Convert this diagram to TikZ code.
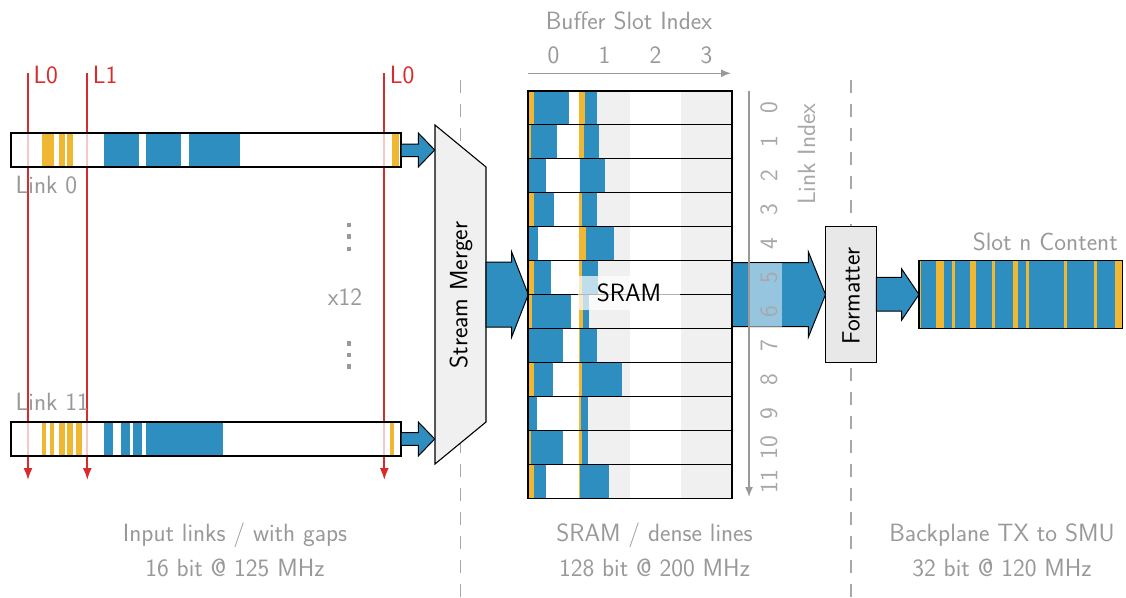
\documentclass[tikz,border=0pt]{standalone}
\usetikzlibrary{arrows.meta,calc}
\definecolor{blk}{HTML}{2E8EC0}
\definecolor{org}{HTML}{F0B732}
\definecolor{redl}{HTML}{D92B2B}
\definecolor{gtext}{HTML}{999999}
\definecolor{ltext}{HTML}{A8A8A8}
\definecolor{lgray}{HTML}{F0F0F0}
\definecolor{fgray}{HTML}{E8E8E8}
\tikzset{
  txt/.style={font=\sffamily\fontsize{25}{30}\selectfont, inner sep=0pt},
  gl/.style={txt, text=gtext},
  redline/.style={draw=redl, line width=1.7pt, -{Latex[length=12pt,width=9pt]}},
  redlab/.style={txt, text=redl, anchor=base west},
  gaxis/.style={draw=gtext, line width=1.4pt, -{Latex[length=10pt,width=8pt]}},
  sep/.style={draw=ltext, line width=1.4pt, dash pattern=on 13pt off 11pt},
  outl/.style={draw=black, line width=1.6pt},
  barrow/.style={fill=blk, draw=black, line width=1pt, line join=miter},
}
\begin{document}
\begin{tikzpicture}[x=1pt,y=-1pt]
\useasboundingbox (0,0) rectangle (1126,597);
% separators
\coordinate (s1t) at (460.5,80); \coordinate (s1b) at (460.5,597);
\coordinate (s2t) at (851,80); \coordinate (s2b) at (851,597);
\draw[sep] (s1t) -- (s1b);
\draw[sep] (s2t) -- (s2b);
% red time lines
\coordinate (r1t) at (28,73); \coordinate (r1b) at (28,480);
\coordinate (r2t) at (87.3,73); \coordinate (r2b) at (87.3,480);
\coordinate (r3t) at (384.3,73); \coordinate (r3b) at (384.3,480);
\draw[redline] (r1t) -- (r1b);
\draw[redline] (r2t) -- (r2b);
\draw[redline] (r3t) -- (r3b);
\node[redlab] (l0a) at (33.3,83.3) {L0};
\node[redlab] (l1) at (92.6,83.3) {L1};
\node[redlab] (l0b) at (389.6,83.3) {L0};
% link 0
\fill[white, opacity=0.75] (11,133) rectangle (401,167);
\foreach \a/\b in {42/54, 58.7/65, 67/73.3, 392/399} \fill[org] (\a,133) rectangle (\b,167);
\foreach \a/\b in {104/138.7, 146/181, 189/240} \fill[blk] (\a,133) rectangle (\b,167);
\node[outl, minimum width=390pt, minimum height=34pt, inner sep=0pt] (link0) at (206,150) {};
% link 11
\fill[white, opacity=0.75] (11,422) rectangle (401,456);
\foreach \a/\b in {42/46, 50.3/54, 58.7/65, 67/73.3, 76/82, 390/394} \fill[org] (\a,422) rectangle (\b,456);
\foreach \a/\b in {104/113, 121/130, 132.7/141.7, 146/223.3} \fill[blk] (\a,422) rectangle (\b,456);
\node[outl, minimum width=390pt, minimum height=34pt, inner sep=0pt] (link11) at (206,439) {};
\node[gl, anchor=base west] (lk0) at (15.5,193) {Link 0};
\node[gl, anchor=base west] (lk11) at (15.5,410.7) {Link 11};
% dots and x12
\foreach \y in {222.6,234.4,246.6,341,352.6,364.4} \fill[gtext] (346.6,\y) rectangle ++(4.7,4.7);
\node[gl] (x12) at (345,297) {x12};
% arrows into merger
\draw[barrow] (401,144) -- (418.3,144) -- (418.3,133) -- (434.7,150) -- (418.3,167) -- (418.3,156.7) -- (401,156.7) -- cycle;
\draw[barrow] (401,432.7) -- (418.3,432.7) -- (418.3,422) -- (434.7,439) -- (418.3,456) -- (418.3,445.3) -- (401,445.3) -- cycle;
% merger
\draw[fill=lgray, draw=black, line width=1.1pt] (435,125) -- (486,167) -- (486,422) -- (435,464) -- cycle;
\node[txt, rotate=90] (merger) at (461,295) {Stream Merger};
% merger -> sram
\draw[barrow] (486,262) -- (511.7,262) -- (511.7,252) -- (528.3,294.5) -- (511.7,337) -- (511.7,327) -- (486,327) -- cycle;
% sram -> formatter
\draw[barrow] (732,262.7) -- (808.3,262.7) -- (808.3,251.7) -- (825.5,294.5) -- (808.3,337.3) -- (808.3,326.7) -- (732,326.7) -- cycle;
\fill[white, opacity=0.5] (749,262.7) rectangle (781.7,326.7);
% sram grid
\fill[lgray] (579,90.7) rectangle (630,498.3);
\fill[lgray] (681,90.7) rectangle (732,498.3);
\def\rh{33.967}
\foreach \r/\lst in {
 0/{o/529.3/534,b/534/569.3,o/578.7/585,b/585/597},
 1/{o/529.3/531,b/531/557.3,o/578.7/584,b/584/599.3},
 2/{b/529.3/546,b/580/605.3},
 3/{o/529.3/534,b/534/554.3,o/578.7/582,b/582/597},
 4/{b/529.3/537.7,o/578.7/585.7,b/585.7/614.3},
 5/{o/529.3/534,b/534/551,o/578.7/581.7,b/581.7/598.3},
 6/{o/529.3/531.7,b/531.7/571.3,o/578.7/583.3,b/583.3/588.5},
 7/{b/529.3/562.7,o/578.7/580,b/580/596.7},
 8/{o/529.3/534,b/534/553.3,o/578.7/582,b/582/622},
 9/{b/529.3/537.3,o/578.7/581.3,b/581.3/588.3},
 10/{o/529.3/531.3,b/531.3/562.7,o/578.7/582,b/582/588.3},
 11/{o/529.3/534.3,b/534.3/546,o/578.7/580.3,b/580.3/609}} {
  \foreach \tp/\a/\b in \lst {
    \if\tp o\def\cc{org}\else\def\cc{blk}\fi
    \fill[\cc] (\a,{90.7+\r*\rh}) rectangle (\b,{90.7+(\r+1)*\rh});
  }
}
\foreach \r in {0,...,11} \draw[outl] (528,{90.7+\r*\rh}) rectangle (732,{90.7+(\r+1)*\rh});
\node[minimum width=204pt, minimum height=407.6pt, inner sep=0pt] (sram) at (630,294.5) {};
\node[txt, fill=white, fill opacity=0.7, text opacity=1, minimum width=102pt, minimum height=34pt] (sramlab) at (629,293) {SRAM};
% top axis
\coordinate (ax1) at (528,73.3); \coordinate (ax2) at (731,73.3);
\draw[gaxis] (ax1) -- (ax2);
\foreach \i in {0,1,2,3} \node[gl] (bs\i) at ({553.5+51*\i},55) {\i};
\node[gl] (bsi) at (629,21) {Buffer Slot Index};
% right axis
\coordinate (ay1) at (749,90.7); \coordinate (ay2) at (749,497);
\draw[gaxis] (ay1) -- (ay2);
\foreach \i in {0,...,11} \node[gl, text=ltext, rotate=90] (li\i) at (769,{90.7+\rh/2+\i*\rh}) {\i};
\node[gl, text=ltext, rotate=90] (lix) at (806.5,154) {Link Index};
% formatter
\node[txt, draw=black, line width=1.1pt, fill=fgray, minimum width=50.6pt, minimum height=135.6pt] (fmt) at (851,294.5) {};
\node[txt, rotate=90] (fmtl) at (851,295.7) {Formatter};
% formatter -> slot
\draw[barrow] (876.3,277.3) -- (901.7,277.3) -- (901.7,269) -- (919,294.5) -- (901.7,320) -- (901.7,311) -- (876.3,311) -- cycle;
% slot content
\fill[blk] (919,260.7) rectangle (1122.5,328.7);
\foreach \a/\b in {919.3/920.7, 936.3/943.7, 952/955, 970/976.3, 991.7/994.7, 1013/1017.7, 1025.7/1029, 1063.7/1067, 1093.7/1096.7, 1114.7/1122} \fill[org] (\a,260.7) rectangle (\b,328.7);
\node[outl, line width=1.4pt, minimum width=203.5pt, minimum height=68pt, inner sep=0pt] (slot) at (1020.75,294.7) {};
\node[gl, anchor=east] (slotl) at (1118,241.7) {Slot n Content};
% bottom labels
\node[gl] (b1a) at (235,535) {Input links / with gaps};
\node[gl] (b1b) at (235,568) {16 bit @ 125 MHz};
\node[gl] (b2a) at (654.5,535) {SRAM / dense lines};
\node[gl] (b2b) at (654.5,568) {128 bit @ 200 MHz};
\node[gl] (b3a) at (1002,535) {Backplane TX to SMU};
\node[gl] (b3b) at (1002,568) {32 bit @ 120 MHz};
\end{tikzpicture}
\end{document}
